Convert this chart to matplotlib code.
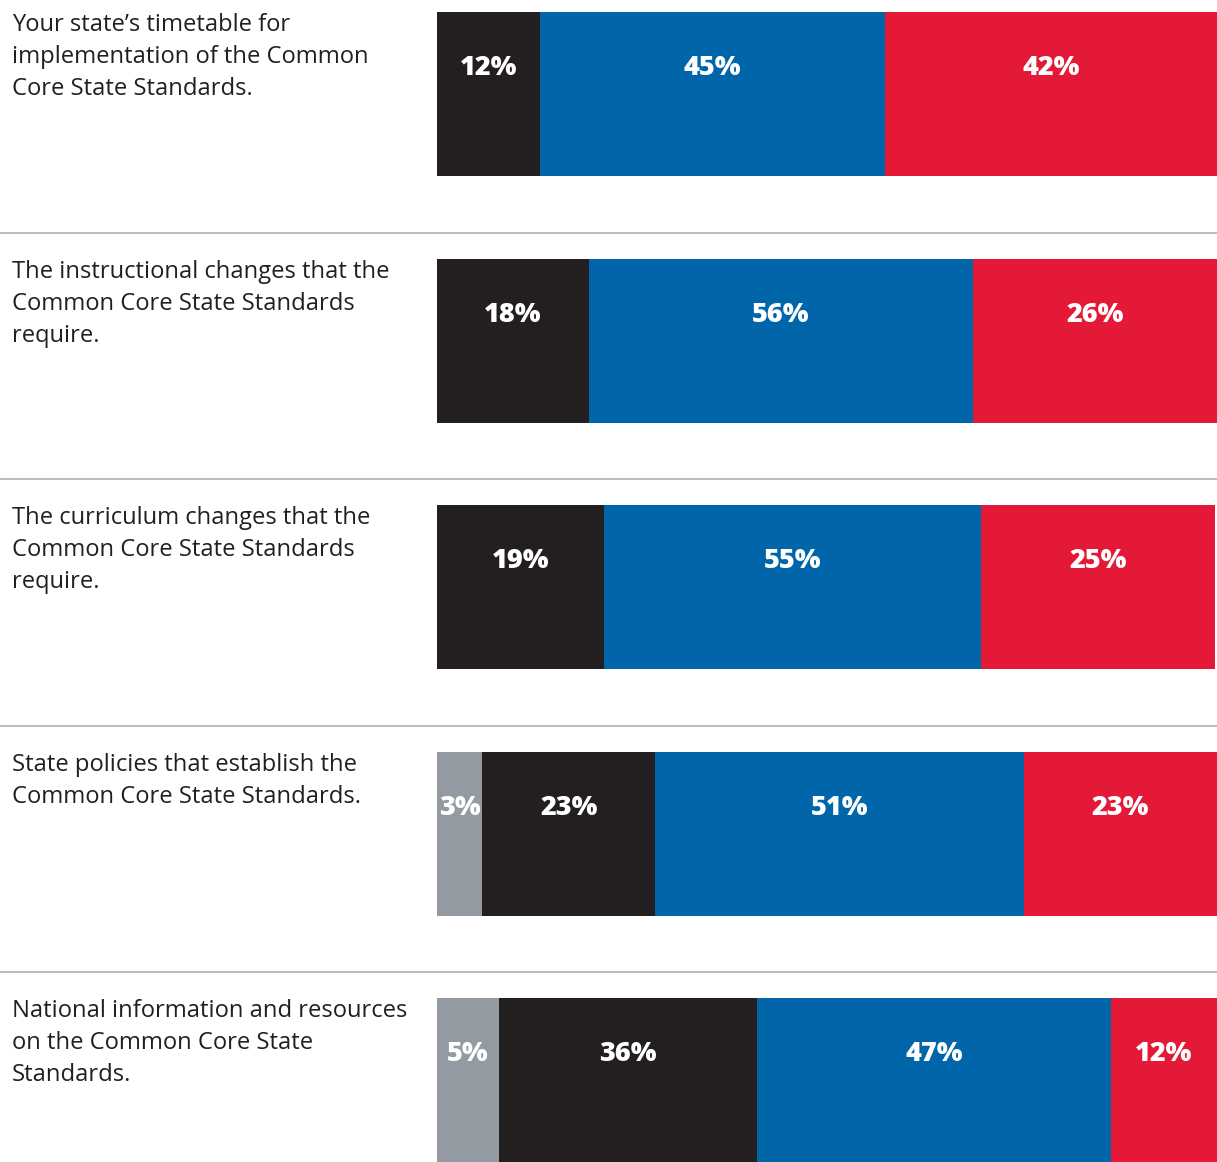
import matplotlib
matplotlib.use("Agg")
import matplotlib.pyplot as plt

# ---- data ----
questions = [
    "Your state\u2019s timetable for\nimplementation of the Common\nCore State Standards.",
    "The instructional changes that the\nCommon Core State Standards\nrequire.",
    "The curriculum changes that the\nCommon Core State Standards\nrequire.",
    "State policies that establish the\nCommon Core State Standards.",
    "National information and resources\non the Common Core State\nStandards.",
]
# printed labels per segment (None = segment absent)
gray_labels  = [None, None, None, "3%", "5%"]
black_labels = ["12%", "18%", "19%", "23%", "36%"]
blue_labels  = ["45%", "56%", "55%", "51%", "47%"]
red_labels   = ["42%", "26%", "25%", "23%", "12%"]
# drawn segment widths (share of bar length, as drawn in the picture)
gray_widths  = [0.0, 0.0, 0.0, 5.8, 7.9]
black_widths = [13.2, 19.5, 21.4, 22.2, 33.1]
blue_widths  = [44.2, 49.2, 48.3, 47.2, 45.4]
red_widths   = [42.6, 31.3, 30.0, 24.8, 13.6]

colors = {"gray": "#939aa1", "black": "#231f20", "blue": "#0066a9", "red": "#e31937"}
text_color = "#231f20"

W, H, DPI = 1217, 1162, 100
fig = plt.figure(figsize=(W / DPI, H / DPI), dpi=DPI)
ax = fig.add_axes([0, 0, 1, 1])

px_per_unit_x = 7.8          # 780 px bar length = 100 units
bar_left_px = 437
pitch_px = 246.5
first_center_px = 94
bar_h_px = 164

ax.set_xlim(-bar_left_px / px_per_unit_x, (W - bar_left_px) / px_per_unit_x)
ax.set_ylim((H - first_center_px) / pitch_px, -first_center_px / pitch_px)
ax.axis("off")

bar_h = bar_h_px / pitch_px
n = len(questions)
rows = list(range(n))

series = [
    (gray_widths, gray_labels, colors["gray"]),
    (black_widths, black_labels, colors["black"]),
    (blue_widths, blue_labels, colors["blue"]),
    (red_widths, red_labels, colors["red"]),
]

lefts = [0.0] * n
for widths, labels, col in series:
    ax.barh(rows, widths, left=lefts, height=bar_h, color=col, linewidth=0)
    for i in rows:
        if labels[i] is not None and widths[i] > 0:
            cx = lefts[i] + widths[i] / 2
            ty = i - bar_h / 2 + 63 / pitch_px
            ax.text(cx, ty, labels[i], color="white", fontsize=19.5,
                    fontweight=800, family="Open Sans",
                    ha="center", va="baseline")
    lefts = [l + w for l, w in zip(lefts, widths)]

# question text
x_text = (12 - bar_left_px) / px_per_unit_x
for i, q in enumerate(questions):
    top = i - bar_h / 2
    for k, line in enumerate(q.split("\n")):
        ax.text(x_text, top + (19 + 32 * k) / pitch_px, line, color=text_color,
                fontsize=17.1, family="Open Sans", ha="left", va="baseline")

# separators
for i in rows[:-1]:
    ax.axhline(i + 0.5625, color="#adb0b3", linewidth=1.2)

fig.savefig("out.png", dpi=DPI)
